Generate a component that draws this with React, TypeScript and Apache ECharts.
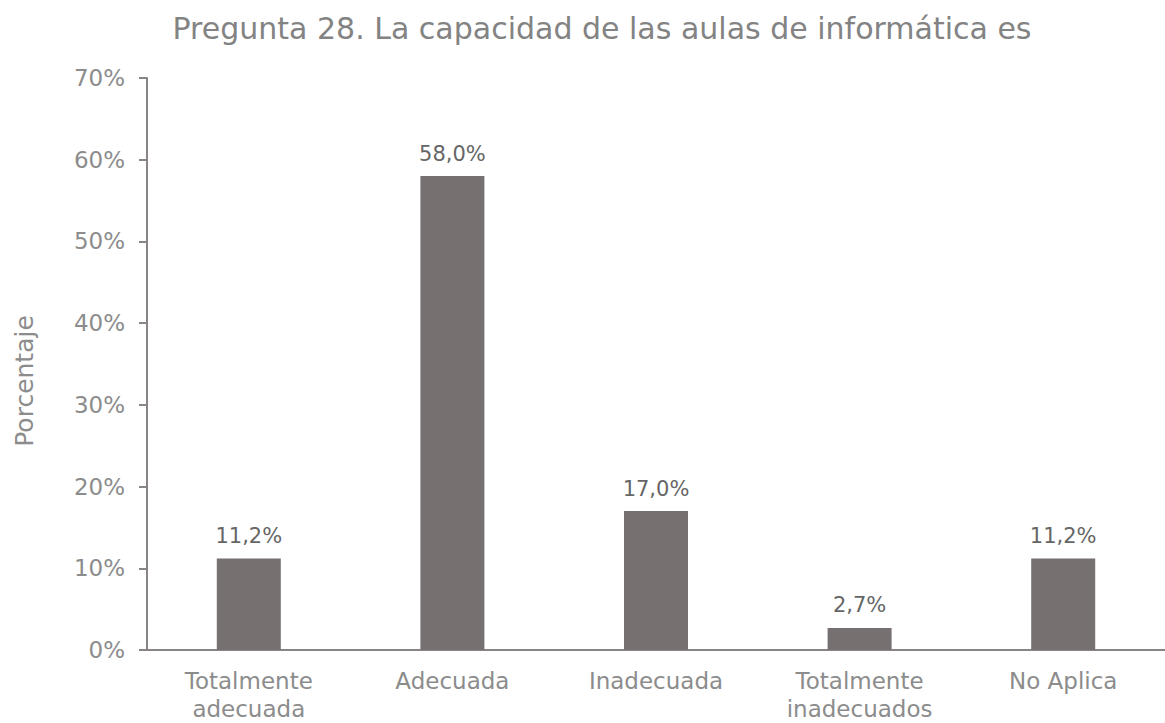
import React, { useEffect, useRef } from "react";
import * as echarts from "echarts";

const categories = ["Totalmente\nadecuada", "Adecuada", "Inadecuada", "Totalmente\ninadecuados", "No Aplica"];
const values = [11.2, 58.0, 17.0, 2.7, 11.2];
const yTicks = [0, 10, 20, 30, 40, 50, 60, 70];

const FONT = "'DejaVu Sans', sans-serif";

export default function App() {
  const ref = useRef<HTMLDivElement>(null);
  useEffect(() => {
    if (!ref.current) return;
    const chart = echarts.init(ref.current, undefined, { renderer: "svg" });
    chart.setOption({
      animation: false,
      backgroundColor: "#ffffff",
      title: {
        text: "Pregunta 28. La capacidad de las aulas de informática es",
        left: 597,
        textAlign: "center",
        top: 8,
        textStyle: { fontFamily: FONT, fontSize: 30, fontWeight: "normal", color: "#838383" },
      },
      grid: { left: 147, width: 1030, top: 78, bottom: 71 },
      xAxis: {
        type: "category",
        data: categories,
        axisLine: { lineStyle: { color: "#8a8585", width: 2 } },
        axisTick: { show: false },
        axisLabel: { fontFamily: FONT, fontSize: 23, color: "#8c8c8c", lineHeight: 28, margin: 17 },
      },
      yAxis: {
        type: "value",
        min: yTicks[0],
        max: yTicks[yTicks.length - 1],
        interval: 10,
        name: "Porcentaje",
        nameLocation: "middle",
        nameGap: 110,
        nameTextStyle: { fontFamily: FONT, fontSize: 25, color: "#8c8c8c", padding: [0, 34, 0, 0] },
        axisLine: { show: true, lineStyle: { color: "#8a8585", width: 2 } },
        axisTick: { show: true, length: 8, lineStyle: { color: "#8a8585", width: 2 } },
        splitLine: { show: false },
        axisLabel: {
          fontFamily: FONT,
          fontSize: 23,
          color: "#8c8c8c",
          margin: 22,
          formatter: (v: number) => `${v}%`,
        },
      },
      series: [
        {
          type: "bar",
          data: values,
          barWidth: 64,
          itemStyle: { color: "#767070" },
          label: {
            show: true,
            position: "top",
            distance: 12,
            fontFamily: FONT,
            fontSize: 21,
            color: "#666666",
            formatter: (p: any) => `${p.value.toFixed(1).replace(".", ",")}%`,
          },
        },
      ],
    });
    return () => chart.dispose();
  }, []);
  return <div ref={ref} style={{ width: 1165, height: 723, position: "absolute", left: 0, top: 0 }} />;
}
